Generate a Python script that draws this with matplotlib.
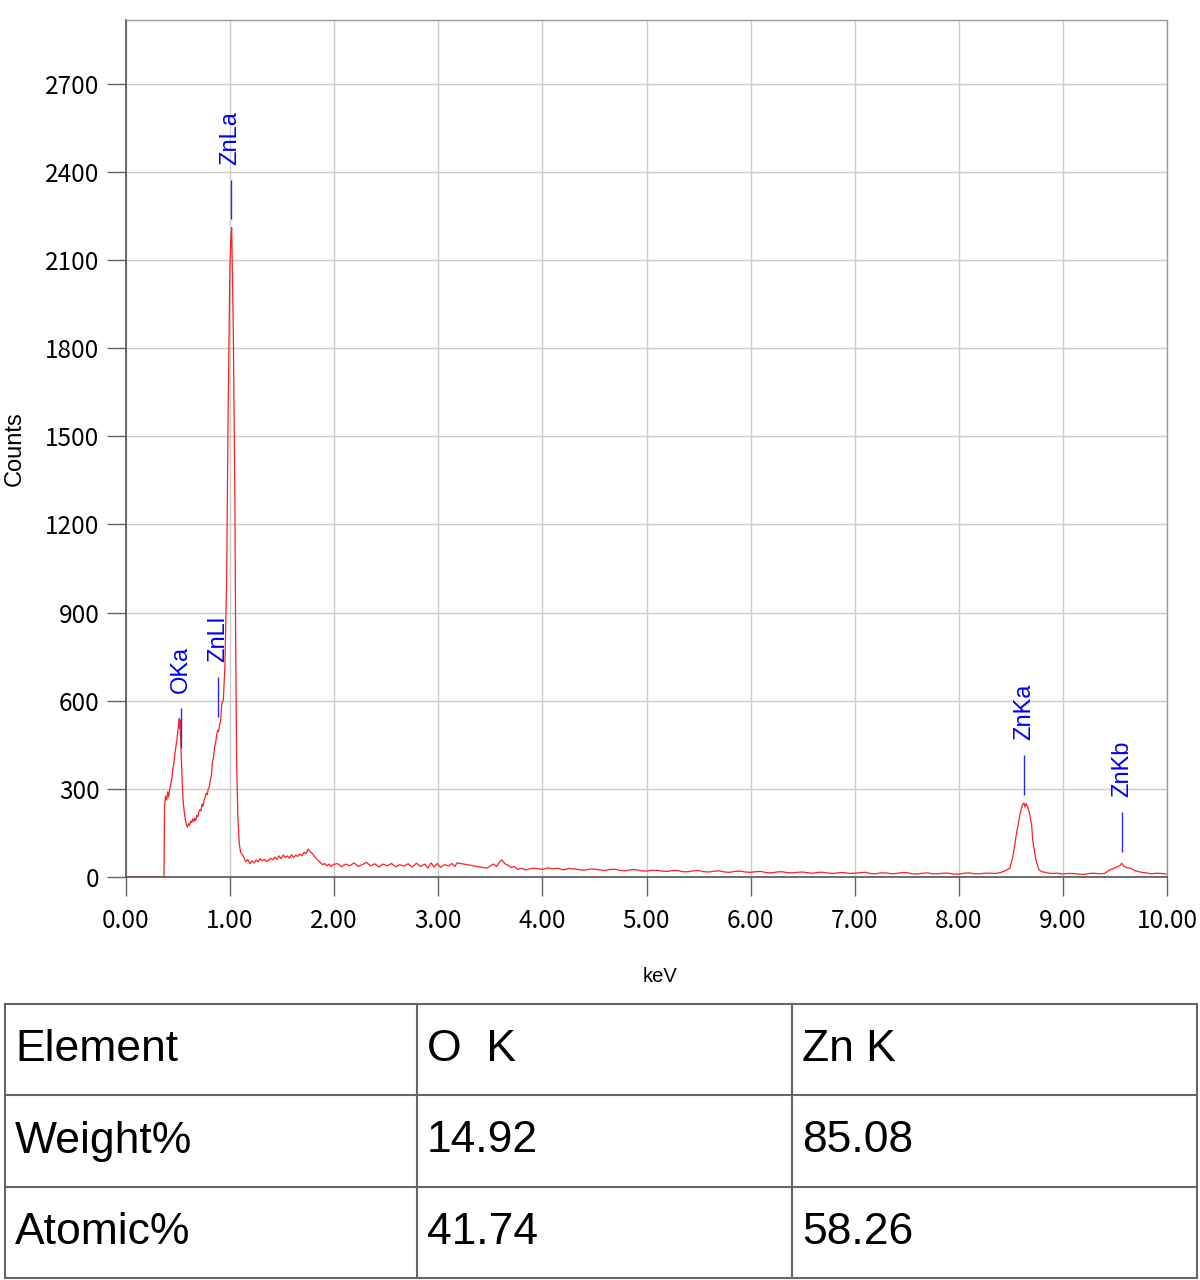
import matplotlib
matplotlib.use('Agg')
import matplotlib.pyplot as plt

plt.rcParams['font.family'] = ['Noto Sans CJK JP', 'DejaVu Sans']

# EDS spectrum (keV, counts)
kev = [0.00, 0.355, 0.365, 0.37, 0.38, 0.39, 0.40, 0.41, 0.42, 0.43, 0.44, 0.45, 0.46, 0.47,
       0.48, 0.49, 0.50, 0.51, 0.515, 0.52, 0.53, 0.54, 0.55, 0.56, 0.57, 0.58, 0.59, 0.60,
       0.61, 0.62, 0.63, 0.64, 0.65, 0.66, 0.67, 0.68, 0.69, 0.70, 0.71, 0.72, 0.73, 0.74,
       0.75, 0.76, 0.77, 0.78, 0.79, 0.80, 0.81, 0.82, 0.83, 0.84, 0.85, 0.86, 0.87, 0.88,
       0.89, 0.90, 0.91, 0.92, 0.935, 0.95, 0.96, 0.967, 0.98, 0.99, 0.998, 1.008, 1.015,
       1.031, 1.04, 1.046, 1.053, 1.063, 1.075, 1.088, 1.10, 1.13, 1.15, 1.17, 1.19, 1.21,
       1.23, 1.25, 1.27, 1.29, 1.31, 1.33, 1.35, 1.37, 1.39, 1.41, 1.43, 1.45, 1.47, 1.49,
       1.51, 1.53, 1.55, 1.57, 1.59, 1.61, 1.63, 1.65, 1.67, 1.69, 1.71, 1.73, 1.75, 1.77,
       1.79, 1.81, 1.83, 1.85, 1.87, 1.89, 1.91, 1.93, 1.95, 1.97, 1.99, 2.03, 2.07, 2.11,
       2.15, 2.19, 2.23, 2.27, 2.31, 2.35, 2.39, 2.43, 2.47, 2.51, 2.55, 2.59, 2.63, 2.67,
       2.71, 2.75, 2.79, 2.83, 2.87, 2.90, 2.93, 2.96, 2.99, 3.02, 3.06, 3.10, 3.13, 3.16,
       3.18, 3.47, 3.50, 3.53, 3.56, 3.59, 3.61, 3.64, 3.67, 3.70, 3.73, 3.76, 3.80, 3.84,
       3.88, 3.92, 4.00, 4.05, 4.10, 4.15, 4.20, 4.25, 4.30, 4.35, 4.40, 4.45, 4.50, 4.55,
       4.60, 4.65, 4.70, 4.75, 4.80, 4.85, 4.90, 4.95, 5.00, 5.05, 5.10, 5.15, 5.20, 5.25,
       5.30, 5.35, 5.40, 5.45, 5.50, 5.55, 5.60, 5.65, 5.70, 5.75, 5.80, 5.85, 5.90, 5.95,
       6.00, 6.05, 6.10, 6.15, 6.20, 6.25, 6.30, 6.35, 6.40, 6.45, 6.50, 6.55, 6.60, 6.65,
       6.70, 6.75, 6.80, 6.85, 6.90, 6.95, 7.00, 7.05, 7.10, 7.15, 7.20, 7.25, 7.30, 7.35,
       7.40, 7.45, 7.50, 7.55, 7.60, 7.65, 7.70, 7.75, 7.80, 7.85, 7.90, 7.95, 8.00, 8.05,
       8.10, 8.15, 8.20, 8.25, 8.30, 8.35, 8.40, 8.45, 8.49, 8.52, 8.555, 8.59, 8.61, 8.625,
       8.635, 8.645, 8.66, 8.68, 8.70, 8.71, 8.73, 8.74, 8.77, 8.80, 8.85, 8.90, 8.95, 9.00,
       9.05, 9.10, 9.15, 9.20, 9.25, 9.30, 9.35, 9.40, 9.45, 9.49, 9.52, 9.55, 9.565, 9.58,
       9.61, 9.65, 9.69, 9.74, 9.80, 9.85, 9.90, 9.95, 10.00]
counts = [0, 0, 0, 240, 275, 262, 290, 272, 300, 318, 335, 370, 385, 420,
          445, 470, 505, 540, 505, 535, 420, 320, 255, 220, 195, 178, 170, 182,
          176, 190, 185, 198, 188, 200, 192, 210, 205, 222, 230, 225, 248, 240,
          262, 270, 285, 280, 300, 305, 330, 345, 390, 405, 440, 455, 480, 500,
          495, 520, 535, 590, 603, 716, 900, 1011, 1550, 1850, 2077, 2180, 2210,
          1852, 1512, 1284, 831, 375, 200, 115, 85, 69, 52, 60, 45, 55,
          48, 58, 52, 62, 55, 60, 52, 57, 64, 58, 68, 60, 72, 62,
          75, 66, 72, 64, 76, 66, 74, 70, 78, 72, 84, 80, 95, 86,
          80, 70, 62, 55, 48, 42, 46, 38, 44, 36, 42, 46, 35, 44,
          38, 48, 36, 42, 50, 38, 45, 34, 44, 38, 46, 35, 42, 37,
          45, 34, 47, 36, 44, 30, 48, 34, 46, 33, 42, 38, 46, 36,
          48, 30, 38, 44, 36, 52, 58, 45, 40, 32, 36, 26, 30, 24,
          28, 30, 26, 31, 28, 30, 24, 29, 28, 25, 23, 27, 27, 24,
          22, 26, 26, 22, 21, 25, 25, 21, 20, 23, 23, 20, 19, 22,
          22, 18, 18, 21, 22, 18, 17, 20, 21, 17, 16, 19, 20, 17,
          16, 18, 19, 15, 14, 17, 18, 15, 14, 16, 17, 14, 13, 16,
          16, 13, 12, 15, 15, 12, 13, 15, 16, 12, 11, 14, 14, 11,
          12, 15, 15, 11, 10, 13, 14, 11, 11, 13, 13, 10, 10, 13,
          14, 11, 11, 13, 13, 12, 15, 22, 30, 69, 150, 217, 245, 252,
          238, 250, 240, 217, 175, 126, 80, 58, 24, 18, 14, 12, 13, 10,
          12, 12, 10, 9, 12, 13, 11, 12, 24, 30, 34, 40, 47, 38,
          32, 30, 22, 17, 14, 11, 13, 12, 10]

# peak identification markers
peak_names = ['OKa', 'ZnLl', 'ZnLa', 'ZnKa', 'ZnKb']
peak_kev = [0.525, 0.886, 1.005, 8.63, 9.57]
peak_base = [440, 546, 2238, 279, 86]

# quantification table
row_names = ['Element', 'Weight%', 'Atomic%']
o_col = ['O  K', '14.92', '41.74']
zn_col = ['Zn K', '85.08', '58.26']

W, H = 1200, 1280
fig = plt.figure(figsize=(12, 12.8), dpi=100)
ax = fig.add_axes([126 / W, 1 - 877 / H, (1167 - 126) / W, (877 - 20) / H])

ax.plot(kev, counts, color='#ff2020', lw=0.9)

mark_len = 136
gap = 50
ax.vlines(peak_kev, peak_base, [b + mark_len for b in peak_base], color='#2a2aff', lw=1)
for name, k, b in zip(peak_names, peak_kev, peak_base):
    ax.text(k, b + mark_len + gap, name, rotation=90, ha='center', va='bottom',
            color='#0000ff', fontsize=17, family='Liberation Sans')

ax.set_xlim(0, 10)
ax.set_ylim(0, 2917)
ax.set_xticks(range(0, 11))
ax.set_xticklabels(['%.2f' % v for v in range(0, 11)])
ax.set_yticks(range(0, 2701, 300))
ax.grid(True, color='#cccccc', lw=1)
ax.set_axisbelow(True)
ax.tick_params(axis='both', direction='out', length=14, color='#666666', width=1, labelsize=17.5)
ax.tick_params(axis='x', pad=8)
ax.tick_params(axis='y', pad=5)
for s in ['left', 'bottom']:
    ax.spines[s].set_color('#555555')
    ax.spines[s].set_linewidth(1.2)
for s in ['top', 'right']:
    ax.spines[s].set_color('#999999')
    ax.spines[s].set_linewidth(1)

ax.set_xlabel('keV', fontsize=14.5, family='Liberation Sans')
ax.xaxis.set_label_coords(0.513, -0.105)
ax.set_ylabel('Counts', fontsize=17, family='Liberation Sans')
ax.yaxis.set_label_coords(-0.096, 0.5)

# table below the chart
tx = fig.add_axes([5 / W, 2 / H, 1192 / W, 274 / H])
tx.set_xlim(0, 1192)
tx.set_ylim(3, 0)
tx.axis('off')
col_edges = [0, 412, 787, 1192]
for x in col_edges:
    tx.plot([x, x], [0, 3], color='#666666', lw=1.5, clip_on=False)
for r in range(4):
    tx.plot([0, 1192], [r, r], color='#666666', lw=1.5, clip_on=False)
for r in range(3):
    for c, col in enumerate([row_names, o_col, zn_col]):
        tx.text(col_edges[c] + 10, r + 0.5, col[r], ha='left', va='center',
                fontsize=32, family='Liberation Sans', color='black')

fig.savefig('out.png', dpi=100)
